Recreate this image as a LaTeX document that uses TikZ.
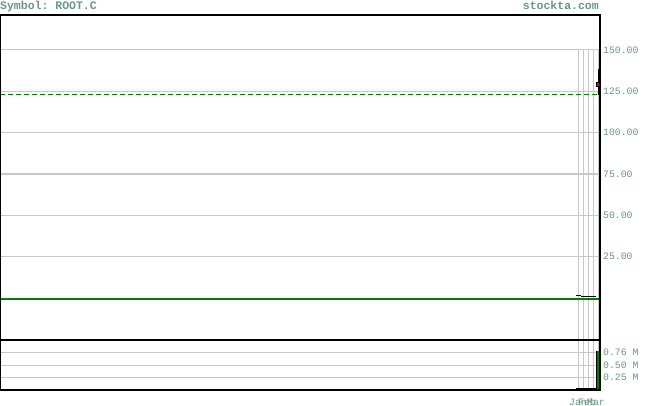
\documentclass[tikz,border=0pt]{standalone}
\usepackage{fontspec}
\setmonofont{Liberation Mono}
\definecolor{txtcol}{RGB}{104,152,136}
\definecolor{gridcol}{RGB}{200,200,200}
\definecolor{dkgreen}{RGB}{0,128,0}
\begin{document}
\begin{tikzpicture}[x=1pt,y=-1pt,
  gridline/.style={draw=gridcol,line width=1pt},
  frame/.style={draw=black,line width=1.2pt},
  axlabel/.style={anchor=west,inner sep=0pt,text=txtcol,font=\ttfamily\fontsize{9.8}{10}\selectfont},
  headlabel/.style={inner sep=0pt,text=txtcol,font=\ttfamily\bfseries\fontsize{11.5}{12}\selectfont},
  monlabel/.style={anchor=base west,inner sep=0pt,text=txtcol,font=\ttfamily\fontsize{9.8}{10}\selectfont}]
\useasboundingbox (0,0) rectangle (655,406);
\fill[white] (0,0) rectangle (655,406);
% header
\node[headlabel,anchor=base west] (sym) at (0,10) {Symbol: ROOT.C};
\node[headlabel,anchor=base east] (site) at (599,10) {stockta.com};
% main panel grid
\foreach \yy in {50,91.3,132.7,174,215.3,256.7}
  \draw[gridline] (0,\yy) -- (600,\yy);
\foreach \xx in {578.3,583.3,588.3,593.3,598.3}{
  \draw[gridline] (\xx,50) -- (\xx,340);
  \draw[gridline] (\xx,340) -- (\xx,390);
}
% volume grid
\foreach \yy in {352,365,377}
  \draw[gridline] (0,\yy) -- (600,\yy);
% dashed line
\draw[dkgreen,line width=1pt,dash pattern=on 4.5pt off 3.5pt] (0,95) -- (600,95);
% green line
\draw[dkgreen,line width=2.6pt] (0,299) -- (600,299);
% small black lines
\draw[black,line width=0.8pt] (576,295.5) -- (581,295.5);
\draw[black,line width=0.8pt] (581,296.5) -- (596,296.5);
% price bar
\draw[black,line width=1pt] (598.5,69) -- (598.5,95);
\draw[black,fill=red,line width=0.8pt] (596.3,82.8) rectangle (599.7,86.7);
% volume bar
\fill[dkgreen] (596.3,350.5) rectangle (600,390);
\draw[black,line width=0.8pt] (596.3,350.5) -- (596.3,390);
\draw[black,line width=1.5pt] (576,389) -- (597,389);
% frames
\draw[frame] (0.6,15) rectangle (600,340);
\draw[frame] (0.6,340) rectangle (600,390);
% axis labels
\node[axlabel] (l150) at (603,50) {150.00};
\node[axlabel] (l125) at (603,91.3) {125.00};
\node[axlabel] (l100) at (603,132.7) {100.00};
\node[axlabel] (l75) at (603,174) {75.00};
\node[axlabel] (l50) at (603,215.3) {50.00};
\node[axlabel] (l25) at (603,256.7) {25.00};
\node[axlabel] (v76) at (603,352) {0.76 M};
\node[axlabel] (v50) at (603,365) {0.50 M};
\node[axlabel] (v25) at (603,377) {0.25 M};
% month labels
\node[monlabel] (mjan) at (569,405) {Jan};
\node[monlabel] (mfeb) at (578,405) {Feb};
\node[monlabel] (mmar) at (587,405) {Mar};
\end{tikzpicture}
\end{document}
